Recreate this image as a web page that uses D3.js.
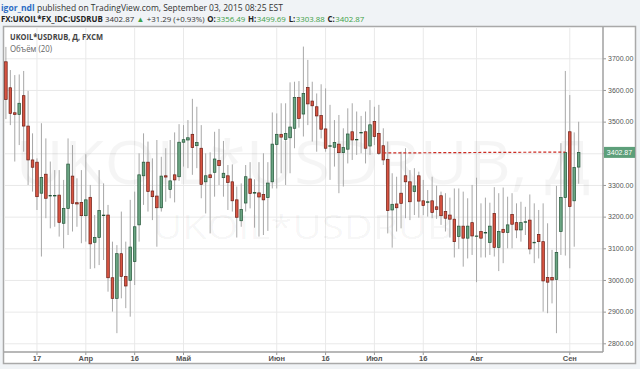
<!DOCTYPE html>
<html>
<head>
<meta charset="utf-8">
<script src="https://cdn.jsdelivr.net/npm/d3@7"></script>
<style>
  html, body { margin: 0; padding: 0; background: #f0f3f6; }
  svg { display: block; }
</style>
</head>
<body>
<div id="chart"></div>
<script>
// first and last trading day shown (weekdays only, forex)
const firstDay = new Date(2015, 2, 6);
const lastDay = new Date(2015, 8, 3);

// daily OHLC, UKOIL*USDRUB
const open = [3689,3607,3528,3523,3582,3486,3379,3372,3274,3334,
  3267,3267,3268,3179,3226,3328,3244,3245,3203,3261,
  3119,3134,3205,3205,3007,2942,3083,3011,2999,3058,
  3174,3329,3372,3281,3265,3228,3329,3286,3332,3326,
  3435,3442,3460,3424,3416,3310,3332,3340,3377,3323,
  3329,3310,3253,3187,3243,3319,3276,3275,3270,3260,
  3310,3428,3460,3444,3449,3479,3576,3524,3608,3565,
  3547,3519,3477,3424,3419,3429,3402,3413,3468,3444,
  3466,3468,3423,3500,3463,3424,3381,3221,3240,3274,
  3329,3310,3279,3329,3250,3247,3250,3231,3266,3216,
  3205,3192,3137,3170,3132,3181,3139,3153,3150,3118,
  3210,3103,3160,3150,3207,3181,3158,3184,3189,3119,
  3144,3121,3008,3008,3002,3153,3260,3468,3250,3356.49];
const high = [3736,3663,3647,3649,3660,3597,3463,3384,3495,3447,
  3374,3347,3347,3316,3447,3426,3321,3347,3397,3300,
  3205,3347,3305,3237,3121,3110,3216,3121,3253,3279,
  3400,3463,3437,3384,3442,3389,3416,3442,3466,3492,
  3489,3505,3572,3547,3489,3400,3403,3468,3477,3439,
  3363,3365,3295,3305,3363,3372,3318,3372,3400,3372,
  3529,3526,3558,3558,3624,3626,3628,3737,3695,3626,
  3589,3618,3605,3553,3505,3521,3479,3542,3558,3532,
  3518,3532,3568,3547,3553,3479,3437,3337,3326,3405,
  3416,3347,3353,3342,3316,3284,3326,3298,3279,3274,
  3260,3289,3289,3279,3258,3300,3323,3242,3260,3244,
  3293,3274,3292,3263,3274,3242,3247,3231,3270,3242,
  3221,3242,3179,3095,3297,3432,3660,3584,3466,3499.69];
const low = [3508,3489,3374,3426,3405,3300,3279,3221,3074,3195,
  3163,3168,3137,3100,3142,3153,3168,3116,3121,3035,
  3037,3047,3063,2963,2900,2832,2942,2911,2884,2984,
  3121,3237,3216,3189,3105,3216,3247,3258,3245,3313,
  3358,3353,3332,3353,3258,3210,3147,3263,3300,3263,
  3221,3216,3134,3168,3216,3226,3165,3137,3142,3155,
  3289,3289,3337,3300,3337,3416,3481,3453,3489,3437,
  3405,3447,3405,3316,3358,3274,3295,3368,3379,3395,
  3400,3368,3395,3426,3395,3363,3147,3102,3153,3163,
  3195,3189,3205,3197,3205,3200,3195,3193,3174,3153,
  3134,3071,3098,3042,3068,3079,2993,3071,3071,3079,
  3074,3028,3053,3100,3100,3132,3121,3142,3081,3053,
  3068,2900,2895,2926,2832,3079,3077,3037,3105,3303.88];
const close = [3570,3526,3523,3558,3486,3379,3356,3263,3324,3258,
  3267,3267,3182,3226,3366,3242,3240,3203,3253,3114,
  3134,3219,3205,3007,2942,3083,3011,2981,3104,3168,
  3332,3372,3279,3263,3228,3328,3325,3313,3316,3435,
  3443,3449,3418,3434,3302,3329,3323,3382,3361,3337,
  3308,3250,3198,3223,3326,3273,3276,3262,3253,3306,
  3429,3460,3451,3463,3483,3576,3510,3589,3556,3550,
  3518,3476,3416,3424,3434,3402,3418,3461,3442,3444,
  3466,3416,3490,3453,3400,3379,3219,3239,3228,3242,
  3310,3247,3297,3249,3235,3247,3213,3223,3203,3195,
  3192,3121,3170,3132,3170,3139,3139,3132,3150,3170,
  3103,3153,3150,3174,3176,3158,3181,3184,3098,3119,
  3121,2997,2993,3000,3087,3260,3403,3232,3355,3402.87];

const priceTicks = [2800, 2900, 3000, 3100, 3200, 3300, 3400, 3500, 3600, 3700];
const timeTicks = ["2015-03-17", "2015-04-01", "2015-04-16", "2015-05-01", "2015-06-01",
  "2015-06-16", "2015-07-01", "2015-07-16", "2015-08-03", "2015-09-01"];
const timeLabels = ["17", "Апр", "16", "Май", "Июн", "16", "Июл", "16", "Авг", "Сен"];
const lastPrice = 3402.87;
const change = "+31.29 (+0.93%)";
// user-drawn dashed level
const levelDates = ["2015-07-03", "2015-08-31"];
const levelValues = [3401, 3404];

const W = 640, H = 369;
const plot = { left: 4, right: 603, top: 27, bottom: 352 };
const fmtDay = d3.timeFormat("%Y-%m-%d");
const dates = d3.timeDay.range(firstDay, d3.timeDay.offset(lastDay, 1))
  .filter(d => d.getDay() % 6 !== 0).map(fmtDay);

const step = 4.44;
const x = d3.scaleBand().domain(dates).range([3.68, 3.68 + dates.length * step]).padding(0);
const cx = d => x(d) + x.bandwidth() / 2;
const y = d3.scaleLinear().domain([2800, 3700]).range([343.3, 58.3]);

const upFill = "#6ba583", upLine = "#225437", dnFill = "#d75442", dnLine = "#6b1d14";
const font = "'Open Sans', 'Noto Sans', sans-serif";
const axisFont = "'Liberation Sans', Arial, sans-serif";
const f2 = d3.format(".2f");

const svg = d3.select("#chart").append("svg").attr("width", W).attr("height", H);
svg.append("rect").attr("width", W).attr("height", H).attr("fill", "#f0f3f6");

// chart panel
svg.append("rect")
  .attr("x", 3.5).attr("y", 26.5).attr("width", 632).attr("height", 337)
  .attr("fill", "#fff").attr("stroke", "#a9a9a9").attr("stroke-width", 1.5);

svg.append("clipPath").attr("id", "plotclip").append("rect")
  .attr("x", plot.left).attr("y", plot.top)
  .attr("width", plot.right - plot.left).attr("height", plot.bottom - plot.top);

// grid
svg.append("g").attr("transform", `translate(0,${plot.bottom})`)
  .call(d3.axisBottom(x).tickValues(timeTicks).tickSize(-(plot.bottom - plot.top)).tickFormat(""))
  .call(g => g.select(".domain").remove())
  .call(g => g.selectAll("line").attr("stroke", "#e9e9e9"));
svg.append("g").attr("transform", `translate(${plot.right},0)`)
  .call(d3.axisRight(y).tickValues(priceTicks).tickSize(-(plot.right - plot.left)).tickFormat(""))
  .call(g => g.select(".domain").remove())
  .call(g => g.selectAll("line").attr("stroke", "#e9e9e9"));

// watermark
const wm = svg.append("g").attr("clip-path", "url(#plotclip)")
  .attr("fill", "#000").attr("fill-opacity", 0.04).attr("font-family", font);
wm.append("text").attr("x", 303).attr("y", 184).attr("text-anchor", "middle")
  .attr("font-size", 60).attr("textLength", 575).attr("lengthAdjust", "spacingAndGlyphs")
  .text("UKOIL*USDRUB, Д");
wm.append("text").attr("x", 303).attr("y", 239).attr("text-anchor", "middle")
  .attr("font-size", 33).attr("textLength", 300).attr("lengthAdjust", "spacingAndGlyphs")
  .text("UKOIL*USDRUB");

// candles
const bars = dates.map((d, i) => ({ d, o: open[i], h: high[i], l: low[i], c: close[i] }));
const cg = svg.append("g").attr("clip-path", "url(#plotclip)");
cg.selectAll("line.wick").data(bars).join("line").attr("class", "wick")
  .attr("x1", d => cx(d.d)).attr("x2", d => cx(d.d))
  .attr("y1", d => y(d.h)).attr("y2", d => y(d.l))
  .attr("stroke", "#a8a8a8").attr("stroke-width", 1);
cg.selectAll("rect.body").data(bars).join("rect").attr("class", "body")
  .attr("x", d => cx(d.d) - 1.3).attr("width", 2.6)
  .attr("y", d => y(Math.max(d.o, d.c)))
  .attr("height", d => Math.max(0.6, Math.abs(y(d.o) - y(d.c))))
  .attr("fill", d => d.c >= d.o ? upFill : dnFill)
  .attr("stroke", d => d.c >= d.o ? upLine : dnLine)
  .attr("stroke-width", 0.7);

// dashed level line
cg.append("line")
  .attr("x1", cx(levelDates[0])).attr("y1", y(levelValues[0]))
  .attr("x2", cx(levelDates[1])).attr("y2", y(levelValues[1]))
  .attr("stroke", "#cc2a22").attr("stroke-width", 1.2).attr("stroke-dasharray", "3,2");

// time axis
const xa = svg.append("g").attr("transform", `translate(0,${plot.bottom})`)
  .call(d3.axisBottom(x).tickValues(timeTicks).tickSize(3).tickPadding(1)
    .tickFormat(d => timeLabels[timeTicks.indexOf(d)]));
xa.select(".domain").remove();
xa.selectAll("line").attr("stroke", "#999");
xa.selectAll("text").attr("font-family", axisFont).attr("font-size", 7.5)
  .attr("fill", "#555").attr("font-weight", "bold");

// price axis
const ya = svg.append("g").attr("transform", `translate(${plot.right},0)`)
  .call(d3.axisRight(y).tickValues(priceTicks).tickSize(3).tickPadding(2).tickFormat(f2));
ya.select(".domain").remove();
ya.selectAll("line").attr("stroke", "#999");
ya.selectAll("text").attr("font-family", axisFont).attr("font-size", 7).attr("fill", "#555");

// axis frame lines
svg.append("line").attr("x1", plot.left).attr("x2", plot.right)
  .attr("y1", plot.bottom).attr("y2", plot.bottom)
  .attr("stroke", "#a0a0a0").attr("stroke-width", 1.5);
svg.append("line").attr("x1", plot.right).attr("x2", plot.right)
  .attr("y1", plot.top).attr("y2", plot.bottom)
  .attr("stroke", "#a0a0a0").attr("stroke-width", 1.5);

// last price label
const ly = y(lastPrice);
svg.append("rect").attr("x", 604).attr("y", ly - 5.5).attr("width", 31).attr("height", 11)
  .attr("fill", "#5d9f7a");
svg.append("text").attr("x", 619.5).attr("y", ly + 2.5).attr("text-anchor", "middle")
  .attr("font-family", axisFont).attr("font-size", 7).attr("fill", "#fff")
  .text(f2(lastPrice));

// header: pieces laid out side by side, font size fitted to the target width
function headerLine(yPos, pieces, width) {
  const g = svg.append("g");
  const texts = pieces.map(p => g.append("text").attr("y", yPos)
    .attr("font-family", font).attr("fill", p.fill || "#333")
    .attr("font-weight", p.bold ? "bold" : null).text(p.t));
  const place = size => {
    let cur = 1;
    texts.forEach((t, i) => {
      cur += (pieces[i].gap || 0) * size;
      t.attr("font-size", size).attr("x", cur);
      cur += t.node().getComputedTextLength();
    });
    return cur - 1;
  };
  const total = place(10);
  place(10 * width / total);
}

const green = "#3da147";
headerLine(10.5, [
  { t: "igor_ndl", fill: "#2b6cc4", bold: true },
  { t: "published on TradingView.com, September 03, 2015 08:25 EST", gap: 0.28 }
], 282);

const ohlc = [["O:", open], ["H:", high], ["L:", low], ["C:", close]];
headerLine(21.5, [
  { t: "FX:UKOIL*FX_IDC:USDRUB", fill: "#222", bold: true },
  { t: f2(lastPrice), gap: 0.3 },
  { t: "▲", fill: green, gap: 0.3 },
  { t: change, gap: 0.3 },
  ...ohlc.flatMap(([k, arr]) => [
    { t: k, fill: "#222", bold: true, gap: 0.35 },
    { t: f2(arr[arr.length - 1]), fill: green, gap: 0.05 }
  ])
], 364);

// panel titles
svg.append("text").attr("x", 10).attr("y", 40)
  .attr("font-family", font).attr("font-size", 9).attr("font-weight", "bold").attr("fill", "#444")
  .attr("textLength", 93).attr("lengthAdjust", "spacingAndGlyphs")
  .text("UKOIL*USDRUB, Д, FXCM");
svg.append("text").attr("x", 10).attr("y", 51.5)
  .attr("font-family", font).attr("font-size", 8.5).attr("fill", "#666")
  .attr("textLength", 42).attr("lengthAdjust", "spacingAndGlyphs")
  .text("Объём (20)");
</script>
</body>
</html>
